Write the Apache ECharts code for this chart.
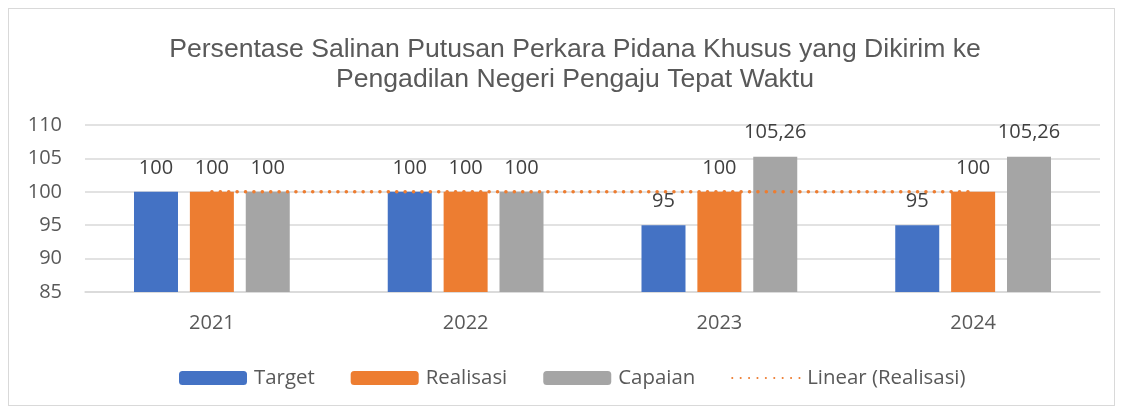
<!DOCTYPE html>
<html><head><meta charset="utf-8">
<script src="https://cdn.jsdelivr.net/npm/echarts@6/dist/echarts.min.js"></script>
<style>
html,body{margin:0;padding:0;background:#fff;}
#frame{position:absolute;left:8px;top:8px;width:1107px;height:398px;border:1px solid #D9D9D9;box-sizing:border-box;}
#c{position:absolute;left:0;top:0;width:1124px;height:409px;}
</style></head>
<body><div id="frame"></div><div id="c"></div>
<script>
const titleLines = ["Persentase Salinan Putusan Perkara Pidana Khusus yang Dikirim ke", "Pengadilan Negeri Pengaju Tepat Waktu"];
const categories = ["2021", "2022", "2023", "2024"];
const target = [100, 100, 95, 95];
const realisasi = [100, 100, 100, 100];
const capaian = [100, 100, 105.26, 105.26];
const trendRealisasi = [100, 100, 100, 100];
const seriesNames = ["Target", "Realisasi", "Capaian", "Linear (Realisasi)"];
const yMin = 85, yMax = 110, yStep = 5;

const chart = echarts.init(document.getElementById('c'), null, {renderer: 'canvas'});
const fmt = p => String(p.value).replace('.', ',');
const labelStyle = {show: true, position: 'top', distance: 14, color: '#404040', fontSize: 20, fontFamily: 'Open Sans', formatter: fmt};
const barCommon = {type: 'bar', barWidth: 44, barGap: '27%', label: labelStyle};
chart.setOption({
  animation: false,
  title: {
    text: titleLines.join('\n'), left: 570, top: 30, textAlign: 'center',
    textStyle: {fontFamily: 'Liberation Sans', fontSize: 26.6, fontWeight: 'normal', color: '#595959', lineHeight: 29.5}
  },
  grid: {left: 85, right: 24, top: 125, bottom: 117, containLabel: false},
  legend: {
    left: 174, top: 363, itemWidth: 68, itemHeight: 14, itemGap: 36,
    textStyle: {fontFamily: 'Open Sans', fontSize: 20.4, color: '#595959', padding: [0,0,0,2]},
    data: seriesNames.slice(0, 3).concat([{name: seriesNames[3], itemStyle: {opacity: 0}}])
  },
  xAxis: {
    type: 'category', data: categories,
    axisLine: {lineStyle: {color: '#D9D9D9', width: 1.5}}, axisTick: {show: false},
    axisLabel: {color: '#595959', fontFamily: 'Open Sans', fontSize: 20, margin: 21}
  },
  yAxis: {
    type: 'value', min: yMin, max: yMax, interval: yStep,
    axisLine: {show: false}, axisTick: {show: false},
    splitLine: {lineStyle: {color: '#D9D9D9', width: 1.5}},
    axisLabel: {color: '#595959', fontFamily: 'Open Sans', fontSize: 20, margin: 23}
  },
  series: [
    Object.assign({name: seriesNames[0], data: target, itemStyle: {color: '#4472C4'}}, barCommon),
    Object.assign({name: seriesNames[1], data: realisasi, itemStyle: {color: '#ED7D31'}}, barCommon),
    Object.assign({name: seriesNames[2], data: capaian, itemStyle: {color: '#A5A5A5'}}, barCommon),
    {name: seriesNames[3], type: 'line', data: trendRealisasi, symbol: 'none', z: 5,
     itemStyle: {color: '#ED7D31'},
     lineStyle: {color: '#ED7D31', width: 3.5, type: [0.1, 8.3], cap: 'round'}}
  ]
});
</script></body></html>
